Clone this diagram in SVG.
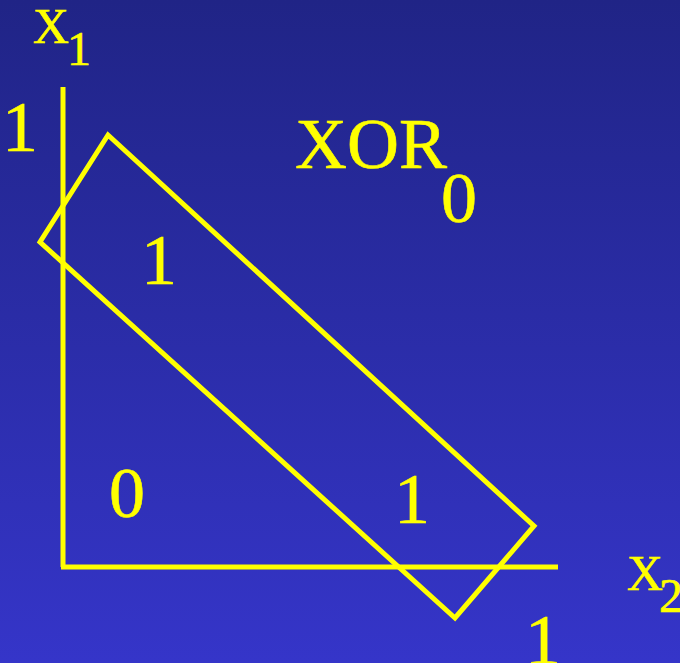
<svg xmlns="http://www.w3.org/2000/svg" width="680" height="663" viewBox="0 0 680 663">
<defs>
<linearGradient id="bg" x1="0" y1="0" x2="0" y2="1">
<stop offset="0" stop-color="#202486"/>
<stop offset="1" stop-color="#3535c9"/>
</linearGradient>
<style>
.ln{stroke:#ffff00;stroke-width:5;fill:none;stroke-linejoin:miter}
.t{fill:#ffff00;stroke:#ffff00;stroke-width:0.6;text-anchor:middle}
.big{font-size:72px}
</style>
</defs>
<rect width="680" height="663" fill="url(#bg)"/>
<g id="connectors">
<line class="ln" x1="63" y1="87" x2="63" y2="567"/>
<line class="ln" x1="61" y1="567" x2="558" y2="567"/>
<polygon class="ln" points="108,135 534,526 455,618 40,242"/>
</g>
<g font-family="Liberation Serif, Times New Roman, serif">
<g id="axis-x1"><text class="t" x="51" y="43" font-size="50">X</text><text class="t" x="79" y="65" font-size="48">1</text></g>
<g id="axis-x2"><text class="t" x="645" y="590" font-size="50">X</text><text class="t" x="671" y="612" font-size="48">2</text></g>
<g id="tick-x1"><text class="t big" x="20" y="151">1</text></g>
<g id="tick-x2"><text class="t big" x="543" y="664">1</text></g>
<g id="title"><text class="t big" x="371" y="168">XOR</text><text class="t big" x="459" y="222">0</text></g>
<g id="p01"><text class="t big" x="159" y="284">1</text></g>
<g id="p00"><text class="t big" x="127" y="517">0</text></g>
<g id="p10"><text class="t big" x="412" y="523">1</text></g>
</g>
</svg>
